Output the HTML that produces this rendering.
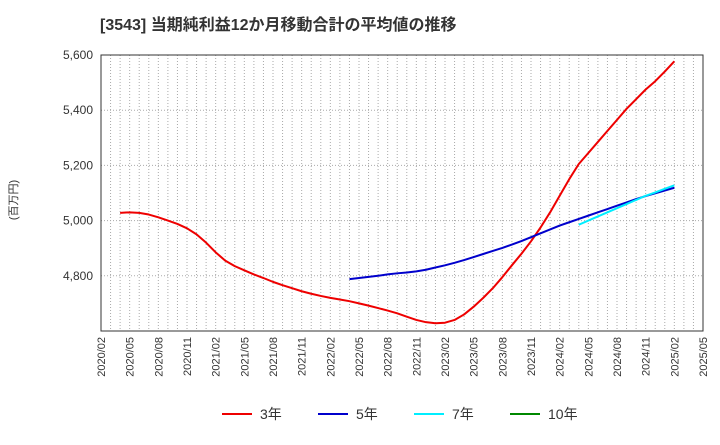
<!DOCTYPE html>
<html><head><meta charset="utf-8"><style>
body{margin:0;background:#fff;width:720px;height:440px;overflow:hidden;font-family:"Liberation Sans","Noto Sans CJK JP",sans-serif}
</style></head><body>
<svg id="c" width="720" height="440" xmlns="http://www.w3.org/2000/svg" font-family="Liberation Sans, Noto Sans CJK JP, sans-serif">
<text x="100" y="30" font-size="16" font-weight="bold" fill="#333">[3543]  当期純利益12か月移動合計の平均値の推移</text>
<text x="17" y="200" font-size="11" fill="#333" transform="rotate(-90 17 200)" text-anchor="middle">(百万円)</text>
<g id="grid"></g><g id="axes"></g><g id="series"></g>
<g>
<g><line x1="222" y1="414" x2="252" y2="414" stroke="#e00" stroke-width="2"/><text x="260" y="419" font-size="14" fill="#333">3年</text></g>
<g><line x1="318" y1="414" x2="348" y2="414" stroke="#00c" stroke-width="2"/><text x="356" y="419" font-size="14" fill="#333">5年</text></g>
<g><line x1="414" y1="414" x2="444" y2="414" stroke="#0ef" stroke-width="2"/><text x="452" y="419" font-size="14" fill="#333">7年</text></g>
<g><line x1="510" y1="414" x2="540" y2="414" stroke="#080" stroke-width="2"/><text x="548" y="419" font-size="14" fill="#333">10年</text></g>
</g>
</svg>
<script>
const yTicks=[4800,5000,5200,5400,5600];
const xTickLabels=["2020/02","2020/05","2020/08","2020/11","2021/02","2021/05","2021/08","2021/11","2022/02","2022/05","2022/08","2022/11","2023/02","2023/05","2023/08","2023/11","2024/02","2024/05","2024/08","2024/11","2025/02","2025/05"];
const s3start=2; // months after 2020/02
const s3=[5028,5030,5028,5022,5012,5000,4988,4972,4950,4920,4885,4855,4835,4820,4805,4792,4778,4766,4755,4744,4735,4727,4720,4714,4708,4700,4692,4683,4674,4664,4652,4640,4632,4628,4630,4640,4660,4688,4720,4755,4795,4838,4880,4925,4975,5030,5090,5150,5205,5245,5285,5325,5365,5405,5440,5475,5505,5540,5577];
const s5start=26;
const s5=[4788,4792,4796,4800,4805,4809,4812,4816,4822,4830,4838,4847,4857,4868,4879,4890,4901,4913,4926,4940,4954,4968,4982,4994,5006,5018,5030,5042,5054,5066,5078,5089,5099,5109,5119];
const s7start=50;
const s7=[4985,5000,5015,5030,5045,5060,5075,5090,5102,5115,5128];
const s10=[];
const L=101,R=703,T=55,B=331,yMin=4600,yMax=5600,nM=63;
const X=m=>L+(R-L)*m/nM, Y=v=>B-(B-T)*(v-yMin)/(yMax-yMin);
const NS="http://www.w3.org/2000/svg";
function mk(p,t,a){const e=document.createElementNS(NS,t);for(const k in a)e.setAttribute(k,a[k]);p.appendChild(e);return e;}
const g=document.getElementById('grid'),ax=document.getElementById('axes'),se=document.getElementById('series');
for(let m=1;m<nM;m++){const l=mk(g,'line',{x1:X(m),x2:X(m),y1:T,y2:B,stroke:'#aaa','stroke-dasharray':'1,2','stroke-width':1});

}
yTicks.forEach(v=>{const l=mk(g,'line',{x1:L,x2:R,y1:Y(v),y2:Y(v),stroke:'#aaa','stroke-dasharray':'1,2'});


const t=mk(ax,'text',{x:L-8,y:Y(v)+4,'text-anchor':'end','font-size':12,fill:'#333'});t.textContent=v.toLocaleString('en-US');

});
const f=mk(ax,'rect',{x:L,y:T,width:R-L,height:B-T,fill:'none',stroke:'#333'});


xTickLabels.forEach((s,i)=>{const x=X(i*3);const t=mk(ax,'text',{x:x+4,y:B+6,'text-anchor':'end','font-size':11,fill:'#333',transform:`rotate(-90 ${x+4} ${B+6})`});t.textContent=s;

});
function line(arr,start,col,name){if(!arr.length)return;const p=mk(se,'polyline',{points:arr.map((v,i)=>X(start+i)+','+Y(v)).join(' '),fill:'none',stroke:col,'stroke-width':2,'stroke-linejoin':'round'});

}
line(s3,s3start,'#e00','series-3y');
line(s5,s5start,'#00c','series-5y');
line(s7,s7start,'#0ef','series-7y');
line(s10,0,'#080','series-10y');
</script>
</body></html>
